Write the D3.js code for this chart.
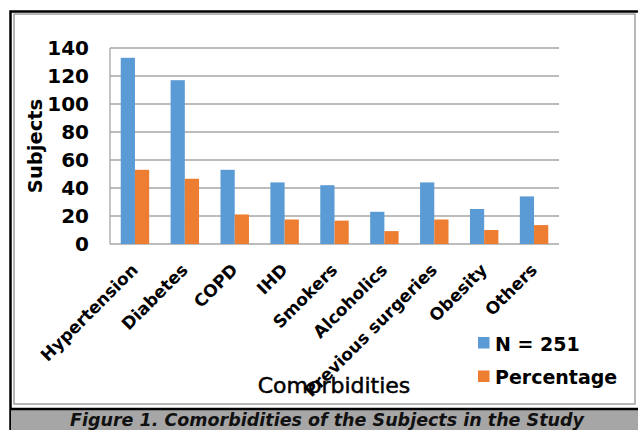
<!DOCTYPE html>
<html>
<head>
<meta charset="utf-8">
<script src="https://cdn.jsdelivr.net/npm/d3@7"></script>
<style>
    html, body { margin: 0; padding: 0; background: #fff; }
    svg { display: block; font-family: "DejaVu Sans", Verdana, sans-serif; }
</style>
</head>
<body>
<svg id="chart" width="638" height="430"></svg>
<script>
// Comorbidities bar chart
const categories = ["Hypertension", "Diabetes", "COPD", "IHD", "Smokers", "Alcoholics", "Previous surgeries", "Obesity", "Others"];
const seriesNames = ["N = 251", "Percentage"];
const countValues = [133, 117, 53, 44, 42, 23, 44, 25, 34];
const percentValues = [53, 46.6, 21.1, 17.5, 16.7, 9.2, 17.5, 10, 13.5];
const yTicks = [0, 20, 40, 60, 80, 100, 120, 140];
const colors = ["#5b9bd5", "#ed7d31"];

(function () {
    const svg = d3.select("#chart");

    const plot = { left: 110, right: 559, top: 48, bottom: 244 };

    // frame
    svg.append("rect")
        .attr("x", 14).attr("y", 14)
        .attr("width", 621).attr("height", 390)
        .attr("fill", "#fff")
        .attr("stroke", "#a0a0a0")
        .attr("stroke-width", 1.5);
    svg.append("path")
        .attr("d", "M10.5,430 V11.5 H640")
        .attr("fill", "none")
        .attr("stroke", "#000")
        .attr("stroke-width", 2.5);

    // caption band
    svg.append("rect")
        .attr("x", 11).attr("y", 409)
        .attr("width", 630).attr("height", 25)
        .attr("fill", "#a6a6a6");
    svg.append("line")
        .attr("x1", 10).attr("x2", 638)
        .attr("y1", 409).attr("y2", 409)
        .attr("stroke", "#000")
        .attr("stroke-width", 2.5);
    svg.append("text")
        .attr("x", 327).attr("y", 425.5)
        .attr("text-anchor", "middle")
        .attr("font-size", 17.5)
        .attr("font-weight", "bold")
        .attr("font-style", "italic")
        .attr("fill", "#111")
        .text("Figure 1. Comorbidities of the Subjects in the Study");

    const x = d3.scaleBand()
        .domain(categories)
        .range([plot.left, plot.right])
        .paddingInner(0.43)
        .paddingOuter(0.215);

    const xSeries = d3.scaleBand()
        .domain(seriesNames)
        .range([0, x.bandwidth()]);

    const y = d3.scaleLinear()
        .domain([0, 140])
        .range([plot.bottom, plot.top]);

    // gridlines
    svg.append("g")
        .selectAll("line")
        .data(yTicks)
        .join("line")
        .attr("x1", plot.left).attr("x2", plot.right)
        .attr("y1", d => y(d)).attr("y2", d => y(d))
        .attr("stroke", "#a6a6a6")
        .attr("stroke-width", 1.3);

    svg.append("line")
        .attr("x1", plot.left).attr("x2", plot.left)
        .attr("y1", plot.top).attr("y2", plot.bottom)
        .attr("stroke", "#a6a6a6")
        .attr("stroke-width", 1.3);

    // y tick labels
    svg.append("g")
        .selectAll("text")
        .data(yTicks)
        .join("text")
        .attr("x", 89)
        .attr("y", d => y(d))
        .attr("dy", "0.36em")
        .attr("text-anchor", "end")
        .attr("font-size", 20)
        .attr("font-weight", "bold")
        .text(d => d);

    // bars
    const rows = categories.map((c, i) => ({ cat: c, values: [countValues[i], percentValues[i]] }));
    const groups = svg.append("g")
        .selectAll("g")
        .data(rows)
        .join("g")
        .attr("transform", d => `translate(${x(d.cat)},0)`);

    groups.selectAll("rect")
        .data(d => d.values.map((v, j) => ({ name: seriesNames[j], value: v, idx: j })))
        .join("rect")
        .attr("x", d => xSeries(d.name))
        .attr("y", d => y(d.value))
        .attr("width", xSeries.bandwidth())
        .attr("height", d => y(0) - y(d.value))
        .attr("fill", d => colors[d.idx]);

    // x labels
    svg.append("g")
        .selectAll("text")
        .data(categories)
        .join("text")
        .attr("transform", d => `translate(${x(d) + x.bandwidth() / 2 + 4},271) rotate(-45)`)
        .attr("text-anchor", "end")
        .attr("font-size", 17)
        .attr("font-weight", "bold")
        .text(d => d);

    // axis titles
    svg.append("text")
        .attr("transform", "translate(42,146) rotate(-90)")
        .attr("text-anchor", "middle")
        .attr("font-size", 19.5)
        .attr("font-weight", "bold")
        .text("Subjects");

    svg.append("text")
        .attr("x", 334).attr("y", 393)
        .attr("text-anchor", "middle")
        .attr("font-size", 22)
        .attr("stroke", "#000")
        .attr("stroke-width", 0.5)
        .text("Comorbidities");

    // legend
    const legend = svg.append("g")
        .selectAll("g")
        .data(seriesNames)
        .join("g")
        .attr("transform", (d, i) => `translate(478,${343 + i * 33.5})`);

    legend.append("rect")
        .attr("x", 0).attr("y", -6)
        .attr("width", 11.5).attr("height", 11.5)
        .attr("fill", (d, i) => colors[i]);

    legend.append("text")
        .attr("x", 17)
        .attr("y", 7.5)
        .attr("font-size", 19)
        .attr("font-weight", "bold")
        .text(d => d);
})();
</script>
</body>
</html>
